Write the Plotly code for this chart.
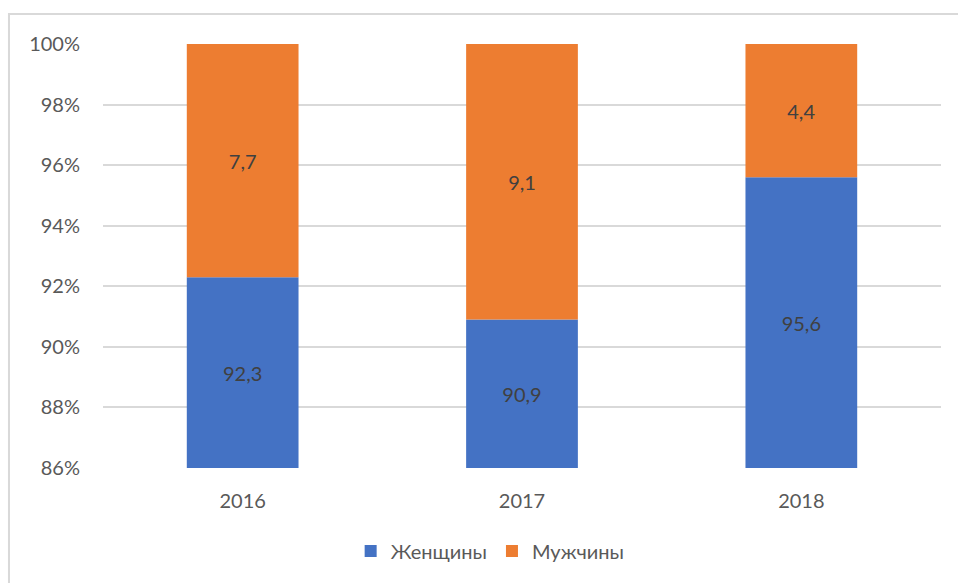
import plotly.graph_objects as go

years = ["2016", "2017", "2018"]
women = [92.3, 90.9, 95.6]
men = [7.7, 9.1, 4.4]
y_min = 86
y_ticks = [86, 88, 90, 92, 94, 96, 98, 100]
y_ticktext = [f"{v}%" for v in y_ticks]

def fmt(v):
    return f"{v:.1f}".replace(".", ",")

FONT = "Lato, 'Open Sans', sans-serif"
GRAY = "#595959"
FS = 20

fig = go.Figure()
fig.add_trace(go.Bar(
    name="Женщины", x=years,
    base=[y_min] * len(years), y=[w - y_min for w in women],
    marker=dict(color="#4472C4", line=dict(width=0)),
    text=[fmt(w) for w in women], textposition="inside",
    insidetextanchor="middle", textangle=0,
    textfont=dict(color="#404040", size=FS, family=FONT),
))
fig.add_trace(go.Bar(
    name="Мужчины", x=years,
    base=women, y=men,
    marker=dict(color="#ED7D31", line=dict(width=0)),
    text=[fmt(m) for m in men], textposition="inside",
    insidetextanchor="middle", textangle=0,
    textfont=dict(color="#404040", size=FS, family=FONT),
))

fig.update_layout(
    width=958, height=583,
    margin=dict(l=103, r=17, t=44, b=115),
    barmode="overlay", bargap=0.6,
    plot_bgcolor="white", paper_bgcolor="white",
    font=dict(family=FONT, size=FS, color=GRAY),
    showlegend=True,
    legend=dict(orientation="h", x=0.462, xanchor="center", y=-0.196, yanchor="middle",
                font=dict(size=FS, color=GRAY), itemwidth=30, traceorder="normal"),
    xaxis=dict(showgrid=False, showline=False, ticks="", ticklabelstandoff=19,
               tickfont=dict(size=FS, color=GRAY)),
    yaxis=dict(range=[y_min, 100], tickvals=y_ticks, ticktext=y_ticktext,
               showgrid=True, gridcolor="#D9D9D9", gridwidth=1.5,
               zeroline=False, showline=False, ticks="", ticklabelstandoff=22,
               tickfont=dict(size=FS, color=GRAY)),
    shapes=[dict(type="rect", xref="paper", yref="paper",
                 x0=-0.1122, x1=1.2, y0=-0.5, y1=1.0708,
                 line=dict(color="#D9D9D9", width=2), fillcolor="rgba(0,0,0,0)",
                 layer="below")],
)

fig.write_html("out.html", config={"displayModeBar": False},
               post_script="document.body.style.margin='0';")
